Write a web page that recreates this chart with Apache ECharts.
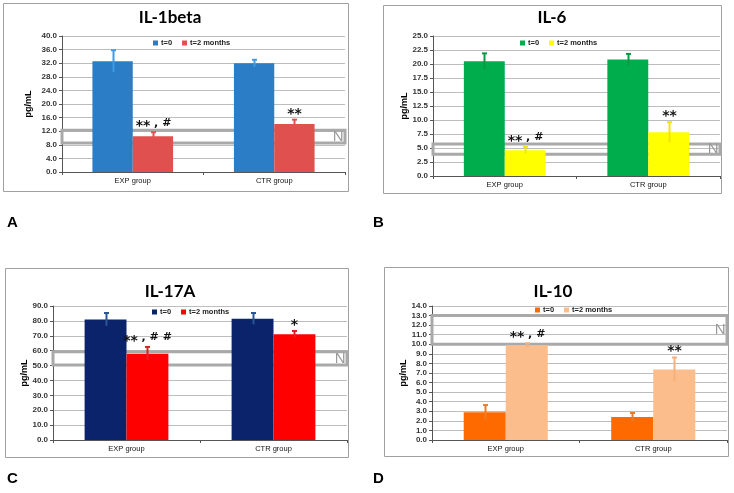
<!DOCTYPE html>
<html><head><meta charset="utf-8">
<script src="https://cdn.jsdelivr.net/npm/echarts@6/dist/echarts.min.js"></script>
<style>html,body{margin:0;padding:0;background:#fff}#c{width:734px;height:493px}</style>
</head><body><div id="c"></div>
<script>
// ---- data ----
const categories = ['EXP group', 'CTR group'];
const seriesNames = ['t=0', 't=2 months'];

const il1bT0 = [32.6, 32.0];
const il1bT0Err = [3.2, 1.0];
const il1bT2 = [10.5, 14.1];
const il1bT2Err = [1.2, 1.3];
const il1bMarks = [['**', ' , #'], ['**', '']];
const il1bNormal = [8.5, 12.3];
const il1bTicks = { max: 40, interval: 4 };

const il6T0 = [20.5, 20.8];
const il6T0Err = [1.4, 1.0];
const il6T2 = [4.6, 7.8];
const il6T2Err = [0.6, 1.8];
const il6Marks = [['**', ' , #'], ['**', '']];
const il6Normal = [3.9, 5.7];
const il6Ticks = { max: 25, interval: 2.5 };

const il17T0 = [81.0, 81.5];
const il17T0Err = [4.3, 3.8];
const il17T2 = [58.0, 71.0];
const il17T2Err = [4.5, 2.2];
const il17Marks = [['**', ' , # #'], ['*', '']];
const il17Normal = [50.3, 59.2];
const il17Ticks = { max: 90, interval: 10 };

const il10T0 = [2.9, 2.4];
const il10T0Err = [0.75, 0.42];
const il10T2 = [9.9, 7.37];
const il10T2Err = [0.2, 1.25];
const il10Marks = [['**', ' , #'], ['**', '']];
const il10Normal = [10.0, 13.0];
const il10Ticks = { max: 14, interval: 1 };

// ---- layout / style ----
const panels = [
  { title: 'IL-1beta', tx: 170, ty: 9, nameGap: 29, grid: { left: 62, right: 389, top: 36, bottom: 321 }, legend: { left: 153, top: 39 },
    t0: il1bT0, t0e: il1bT0Err, t2: il1bT2, t2e: il1bT2Err, marks: il1bMarks, normal: il1bNormal, ticks: il1bTicks,
    c0: '#2b7dc5', c0e: '#3f9be6', c2: '#e0504f', c2e: '#e0504f' },
  { title: 'IL-6', tx: 552, ty: 9, nameGap: 19, grid: { left: 433, right: 14, top: 36, bottom: 317 }, legend: { left: 520, top: 39 },
    t0: il6T0, t0e: il6T0Err, t2: il6T2, t2e: il6T2Err, marks: il6Marks, normal: il6Normal, ticks: il6Ticks,
    c0: '#00ad4c', c0e: '#0a9a44', c2: '#ffff00', c2e: '#f2e600' },
  { title: 'IL-17A', tx: 170, ty: 283, nameGap: 20, grid: { left: 53, right: 387, top: 306, bottom: 53 }, legend: { left: 152, top: 308 },
    t0: il17T0, t0e: il17T0Err, t2: il17T2, t2e: il17T2Err, marks: il17Marks, normal: il17Normal, ticks: il17Ticks,
    c0: '#0b236b', c0e: '#2a5596', c2: '#ff0000', c2e: '#e02020' },
  { title: 'IL-10', tx: 553, ty: 283, nameGap: 21, grid: { left: 432, right: 7, top: 306, bottom: 53 }, legend: { left: 535, top: 306 },
    t0: il10T0, t0e: il10T0Err, t2: il10T2, t2e: il10T2Err, marks: il10Marks, normal: il10Normal, ticks: il10Ticks,
    c0: '#ff6a00', c0e: '#f07a20', c2: '#fbbd8c', c2e: '#f5b07a' }
];
const CAT_GAP = 0.43;
const FONT = 'Liberation Sans';
const STAR_FONT = 'bold 14px "DejaVu Sans"';
const REST_FONT = 'bold 11px "DejaVu Sans"';
const measureCtx = document.createElement('canvas').getContext('2d');
function textW(t, f) { measureCtx.font = f; return measureCtx.measureText(t).width; }

function errSeries(gi, sIdx, vals, errs, marks, color, normal) {
  const s = {
    type: 'custom', xAxisIndex: gi, yAxisIndex: gi, z: 10, silent: true,
    data: vals.map((v, i) => [i, v, errs[i]]),
    encode: { x: 0, y: 1 },
    renderItem: function (params, api) {
      const i = params.dataIndex;
      const cat = api.value(0), v = api.value(1), e = api.value(2);
      const cw = api.size([1, 0])[0];
      const bw = cw * (1 - CAT_GAP) / 2;
      const cx = Math.round(api.coord([cat, v])[0] + (sIdx === 0 ? -bw / 2 : bw / 2)) + 0.5;
      const yTop = api.coord([cat, v + e])[1];
      const yBot = api.coord([cat, Math.max(0, v - e)])[1];
      const children = [
        { type: 'line', shape: { x1: cx, y1: yBot, x2: cx, y2: yTop }, style: { stroke: color, lineWidth: 2 } },
        { type: 'line', shape: { x1: cx - 2.5, y1: yTop, x2: cx + 2.5, y2: yTop }, style: { stroke: color, lineWidth: 2 } }
      ];
      if (marks && marks[i]) {
        const m = marks[i];
        const w1 = textW(m[0], STAR_FONT), w2 = m[1] ? textW(m[1], REST_FONT) : 0;
        const x0 = cx - (w1 + w2) / 2;
        children.push({ type: 'text', style: { text: m[0], x: x0, y: yTop - 5.7, align: 'left', verticalAlign: 'middle',
          font: STAR_FONT, fill: '#111' } });
        if (m[1]) children.push({ type: 'text', style: { text: m[1], x: x0 + w1, y: yTop - 9.5, align: 'left', verticalAlign: 'middle',
          font: REST_FONT, fill: '#111' } });
      }
      return { type: 'group', children: children };
    }
  };
  if (normal) {
    s.markArea = {
      silent: true,
      itemStyle: { color: 'rgba(0,0,0,0)', borderColor: '#a9a9a9', borderWidth: 3 },
      label: { show: true, position: 'insideRight', color: '#9a9a9a', fontSize: 15, fontFamily: FONT, distance: 3 },
      data: [[{ name: 'N', yAxis: normal[0] }, { yAxis: normal[1] }]]
    };
  }
  return s;
}

const option = {
  animation: false,
  backgroundColor: '#fff',
  textStyle: { fontFamily: FONT },
  title: [], legend: [], grid: [], xAxis: [], yAxis: [], series: [],
  graphic: [
    { type: 'rect', shape: { x: 3.5, y: 3.5, width: 345, height: 188 }, style: { fill: 'none', stroke: '#a0a0a0', lineWidth: 1 } },
    { type: 'rect', shape: { x: 383.5, y: 5.5, width: 338, height: 188 }, style: { fill: 'none', stroke: '#a0a0a0', lineWidth: 1 } },
    { type: 'rect', shape: { x: 5.5, y: 268.5, width: 343, height: 189 }, style: { fill: 'none', stroke: '#a0a0a0', lineWidth: 1 } },
    { type: 'rect', shape: { x: 384.5, y: 267.5, width: 344, height: 189 }, style: { fill: 'none', stroke: '#a0a0a0', lineWidth: 1 } },
    { type: 'text', left: 7, top: 215, style: { text: 'A', font: 'bold 15px "Liberation Sans"', fill: '#000' } },
    { type: 'text', left: 373, top: 215, style: { text: 'B', font: 'bold 15px "Liberation Sans"', fill: '#000' } },
    { type: 'text', left: 7, top: 471, style: { text: 'C', font: 'bold 15px "Liberation Sans"', fill: '#000' } },
    { type: 'text', left: 373, top: 471, style: { text: 'D', font: 'bold 15px "Liberation Sans"', fill: '#000' } }
  ]
};

panels.forEach((p, gi) => {
  const n0 = seriesNames[0] + '\u200b'.repeat(gi), n2 = seriesNames[1] + '\u200b'.repeat(gi);
  option.title.push({ text: p.title, left: p.tx, top: p.ty, textAlign: 'center', padding: 0,
    textStyle: { fontSize: 17, fontWeight: 'bold', fontFamily: 'Lato', color: '#000' } });
  option.legend.push({ left: p.legend.left, top: p.legend.top, padding: 0, itemWidth: 5, itemHeight: 5, itemGap: 10,
    icon: 'rect', data: [{ name: n0 }, { name: n2 }],
    textStyle: { fontSize: 7.5, fontWeight: 'bold', color: '#222', padding: [0, 0, 0, -2] } });
  option.grid.push(Object.assign({ containLabel: false }, p.grid));
  option.xAxis.push({ type: 'category', gridIndex: gi, data: categories,
    axisLine: { lineStyle: { color: '#555', width: 1 } },
    axisTick: { show: true, length: 3, lineStyle: { color: '#555' } },
    axisLabel: { fontSize: 7.5, color: '#111', margin: 5 } });
  option.yAxis.push({ type: 'value', gridIndex: gi, min: 0, max: p.ticks.max, interval: p.ticks.interval,
    name: 'pg/mL', nameLocation: 'middle', nameGap: p.nameGap, nameRotate: 90,
    nameTextStyle: { fontSize: 9, fontWeight: 'bold', color: '#000' },
    axisLine: { show: true, lineStyle: { color: '#555' } },
    axisTick: { show: true, length: 3, lineStyle: { color: '#555' } },
    axisLabel: { fontSize: 8, fontWeight: 'bold', color: '#333', margin: 5, formatter: v => v.toFixed(1) },
    splitLine: { lineStyle: { color: '#bdbdbd', width: 1 } } });
  option.series.push({ type: 'bar', name: n0, xAxisIndex: gi, yAxisIndex: gi, data: p.t0,
    barGap: '0%', barCategoryGap: (CAT_GAP * 100) + '%', itemStyle: { color: p.c0 } });
  option.series.push({ type: 'bar', name: n2, xAxisIndex: gi, yAxisIndex: gi, data: p.t2,
    barGap: '0%', barCategoryGap: (CAT_GAP * 100) + '%', itemStyle: { color: p.c2 } });
  option.series.push(errSeries(gi, 0, p.t0, p.t0e, null, p.c0e, null));
  option.series.push(errSeries(gi, 1, p.t2, p.t2e, p.marks, p.c2e, p.normal));
});

const chart = echarts.init(document.getElementById('c'), null, { renderer: 'canvas' });
chart.setOption(option);
</script>
</body></html>
